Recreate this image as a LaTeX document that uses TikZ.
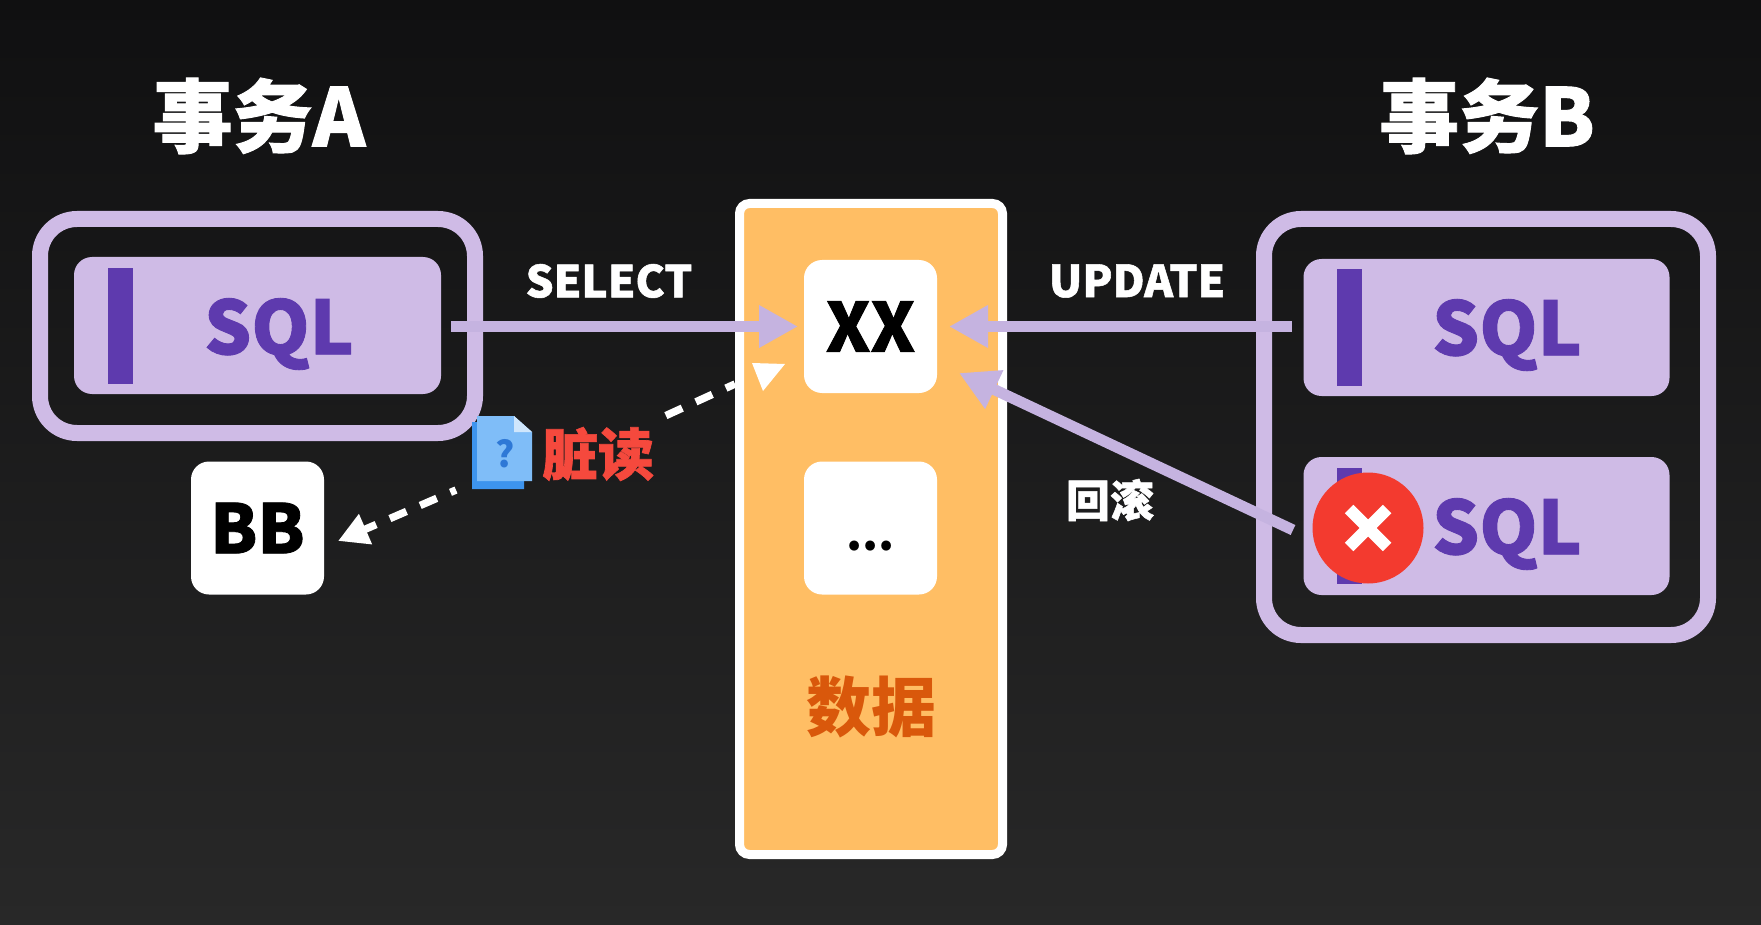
\documentclass[tikz,border=0pt]{standalone}
\usepackage{fontspec}
\setmainfont{Noto Sans CJK SC}
\newfontfamily\heavy{Noto Sans CJK SC Black}[FakeBold=1.2]
\usetikzlibrary{arrows.meta}
\definecolor{bgtop}{HTML}{101011}
\definecolor{bgbot}{HTML}{282828}
\definecolor{lilac}{HTML}{CFBBE6}
\definecolor{lineLilac}{HTML}{C5B3E0}
\definecolor{deep}{HTML}{5E3AAE}
\definecolor{panel}{HTML}{FFBE64}
\definecolor{dataTxt}{HTML}{D9580B}
\definecolor{redX}{HTML}{F33A2F}
\definecolor{redTxt}{HTML}{F5493D}
\definecolor{docFront}{HTML}{7FBDF8}
\definecolor{docBack}{HTML}{3D94EE}
\definecolor{docFold}{HTML}{CFE6FC}
\definecolor{docQ}{HTML}{2E78D6}
\newcommand{\fs}[1]{\fontsize{#1}{#1}\selectfont\bfseries}
\newcommand{\fh}[1]{\heavy\fontsize{#1}{#1}\selectfont}
\tikzset{
  x=1pt,y=-1pt,
  frame/.style={draw=lilac,line width=16pt,rounded corners=37pt,inner sep=0pt,outer sep=0pt},
  sqlbox/.style={fill=lilac,rounded corners=18pt,minimum width=366pt,minimum height=137pt,inner sep=0pt,outer sep=0pt},
  sqlbar/.style={fill=deep,minimum width=25pt,minimum height=116pt,inner sep=0pt},
  sqltxt/.style={text=deep,font=\fh{74},inner sep=0pt},
  cell/.style={fill=white,rounded corners=18pt,minimum width=133pt,minimum height=133pt,inner sep=0pt,outer sep=0pt,text=black,font=\fh{68}},
  title/.style={text=white,font=\fh{80},inner sep=0pt},
  oplabel/.style={text=white,font=\fh{44},inner sep=0pt},
  flow/.style={draw=lineLilac,fill=none,line width=11pt,-{Triangle[length=39pt,width=40pt,fill=lineLilac]}},
  dirty/.style={draw=white,line width=7.5pt,dash pattern=on 18pt off 15pt},
}
\begin{document}
\begin{tikzpicture}
\useasboundingbox (0,0) rectangle (1761,925);
\shade[top color=bgtop,bottom color=bgbot] (0,0) rectangle (1761,925);

% titles
\node[title] (titleA) at (259,116) {事务A};
\node[title] (titleB) at (1487,116) {事务B};

% transaction A
\node[frame,minimum width=435pt,minimum height=214pt] (frameA) at (257.5,326) {};
\node[sqlbox,minimum width=367pt] (sqlA) at (257.5,325.5) {};
\node[sqlbar] (barA) at (120,326) {};
\node[sqltxt] (txtA) at (279,334) {SQL};

% transaction B
\node[frame,minimum width=444pt,minimum height=416pt] (frameB) at (1486,427) {};
\node[sqlbox] (sqlB1) at (1486.5,327.5) {};
\node[sqlbar] (barB1) at (1349.5,327.5) {};
\node[sqltxt] (txtB1) at (1507,335) {SQL};
\node[sqlbox,minimum height=138pt] (sqlB2) at (1486.5,526) {};
\node[sqlbar] (barB2) at (1349.5,526) {};
\node[sqltxt] (txtB2) at (1507,534) {SQL};

% data panel
\node[fill=panel,draw=white,line width=9pt,rounded corners=10pt,minimum width=263pt,minimum height=651pt,inner sep=0pt,outer sep=0pt] (panel) at (871,529) {};
\node[cell] (xx) at (870.5,326.5) {XX};
\node[cell,text height=44pt,text depth=0pt,font=\fs{46}] (dots) at (870.5,528) {...};
\node[text=dataTxt,font=\fs{65},inner sep=0pt] (dataLabel) at (871,707) {数据};
\node[cell] (bb) at (257.5,528) {BB};

% connectors
\coordinate (rollStart) at (1293,530);
\coordinate (rollTip) at (959,373);
\coordinate (dirtyOut) at (735,384);
\coordinate (dirtyEnd) at (665,416);
\coordinate (dirtyBack) at (456,490);
\coordinate (dirtyTip) at (338,541);
\draw[flow,shorten <=10pt,shorten >=6pt] (sqlA.east |- xx) -- (xx.west);
\draw[flow,shorten <=12pt,shorten >=12pt] (sqlB1.west |- xx) -- (xx.east);
\draw[flow] (rollStart) -- (rollTip);
\draw[dirty,dash phase=8pt] (dirtyOut) -- (dirtyEnd);
\draw[dirty,dash phase=12pt,-{Triangle[length=30pt,width=31pt]}] (dirtyBack) -- (dirtyTip);

% white triangle
\fill[white] (752,363) -- (785,364) -- (763,391) -- cycle;

% labels
\node[oplabel] (select) at (609,281) {SELECT};
\node[oplabel] (update) at (1137,281) {UPDATE};
\node[text=white,font=\fh{44},inner sep=0pt] (rollback) at (1110,500) {回滚};
\node[text=redTxt,font=\fh{56},inner sep=0pt] (dirtyLabel) at (598,454) {脏读};

% document icon
\fill[docBack] (472,422) -- (477,422) -- (524,470) -- (524,489) -- (472,489) -- cycle;
\fill[docFront] (477,416) -- (514,416) -- (532,432) -- (532,481) -- (477,481) -- cycle;
\fill[docFold] (514,416) -- (532,432) -- (514,432) -- cycle;
\node[text=docQ,font=\fs{36},inner sep=0pt] (docMark) at (505.5,454) {?};

% cancel mark
\node[circle,fill=redX,minimum size=111pt,inner sep=0pt] (cancel) at (1368,528) {};
\draw[white,line width=12pt] ([shift={(-19,-19)}]cancel.center) -- ([shift={(19,19)}]cancel.center);
\draw[white,line width=12pt] ([shift={(-19,19)}]cancel.center) -- ([shift={(19,-19)}]cancel.center);
\end{tikzpicture}
\end{document}
